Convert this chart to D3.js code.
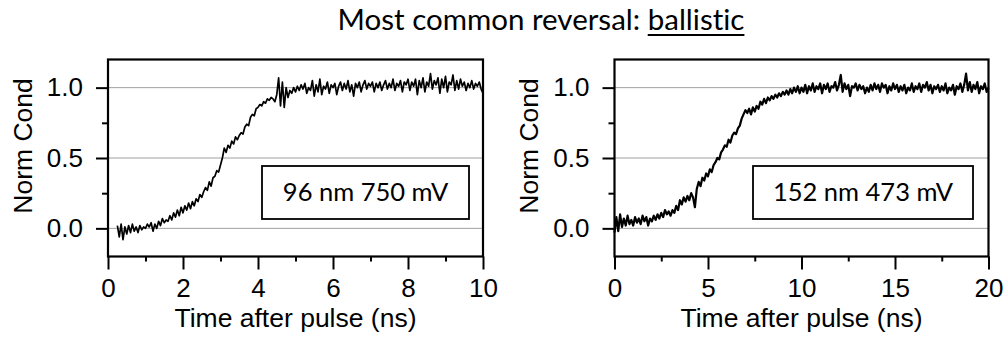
<!DOCTYPE html>
<html><head><meta charset="utf-8">
<script src="https://cdn.jsdelivr.net/npm/d3@7"></script>
<style>body{margin:0;background:#fff} svg{display:block} text{font-variant-ligatures:none;font-feature-settings:"liga" 0,"clig" 0}</style>
</head><body><svg id="c" width="1007" height="346"></svg>
<script>
// ---------------- data ----------------
const titleMain = "Most common reversal: ";
const titleEmph = "ballistic";
const yLabel = "Norm Cond";
const xLabel = "Time after pulse (ns)";
const leftInset = "96 nm 750 mV";
const rightInset = "152 nm 473 mV";

const yDomain = [-0.2, 1.2];
const yMajorTicks = [0, 0.5, 1.0];
const yMinorTicks = [0.25, 0.75];
const gridValues = [0, 0.5, 1.0];

const leftXDomain = [0, 10];
const leftXMajor = [0, 2, 4, 6, 8, 10];
const leftXMinor = [1, 3, 5, 7, 9];
const rightXDomain = [0, 20];
const rightXMajor = [0, 5, 10, 15, 20];
const rightXMinor = [2.5, 7.5, 12.5, 17.5];

const leftTime = [
0.25,0.3,0.35,0.4,0.45,0.5,0.55,0.6,0.65,0.7,0.75,0.8,0.85,0.9,0.95,
1,1.05,1.1,1.15,1.2,1.25,1.3,1.35,1.4,1.45,1.5,1.55,1.6,1.65,1.7,1.75,1.8,1.85,1.9,1.95,
2,2.05,2.1,2.15,2.2,2.25,2.3,2.35,2.4,2.45,2.5,2.55,2.6,2.65,2.7,2.75,2.8,2.85,2.9,2.95,
3,3.05,3.1,3.15,3.2,3.25,3.3,3.35,3.4,3.45,3.5,3.55,3.6,3.65,3.7,3.75,3.8,3.85,3.9,3.95,
4,4.05,4.1,4.15,4.2,4.25,4.3,4.35,4.4,4.45,4.5,4.55,4.6,4.65,4.7,4.75,4.8,4.85,4.9,4.95,
5,5.05,5.1,5.15,5.2,5.25,5.3,5.35,5.4,5.45,5.5,5.55,5.6,5.65,5.7,5.75,5.8,5.85,5.9,5.95,
6,6.05,6.1,6.15,6.2,6.25,6.3,6.35,6.4,6.45,6.5,6.55,6.6,6.65,6.7,6.75,6.8,6.85,6.9,6.95,
7,7.05,7.1,7.15,7.2,7.25,7.3,7.35,7.4,7.45,7.5,7.55,7.6,7.65,7.7,7.75,7.8,7.85,7.9,7.95,
8,8.05,8.1,8.15,8.2,8.25,8.3,8.35,8.4,8.45,8.5,8.55,8.6,8.65,8.7,8.75,8.8,8.85,8.9,8.95,
9,9.05,9.1,9.15,9.2,9.25,9.3,9.35,9.4,9.45,9.5,9.55,9.6,9.65,9.7,9.75,9.8,9.85,9.9,9.95,
10];
const leftCond = [
0.02,-0.06,0.03,-0.08,0.01,-0.04,0.02,-0.03,0.03,-0.02,0.01,-0.03,0.02,-0.01,0.01,
0.00,0.03,0.01,0.04,-0.02,0.03,0.00,0.05,0.02,0.07,0.04,0.06,0.05,0.09,0.06,0.11,0.08,0.13,0.09,0.15,
0.11,0.16,0.13,0.18,0.14,0.19,0.16,0.21,0.19,0.24,0.22,0.26,0.29,0.27,0.33,0.30,0.36,0.37,0.41,0.40,
0.45,0.50,0.57,0.54,0.59,0.57,0.62,0.60,0.65,0.63,0.66,0.68,0.67,0.72,0.74,0.73,0.79,0.81,0.80,0.85,
0.86,0.88,0.87,0.90,0.89,0.92,0.91,0.93,0.92,0.90,0.95,1.07,0.87,1.04,0.86,1.00,0.93,0.98,0.96,1.00,
0.97,1.01,0.98,1.02,0.99,1.03,0.96,1.00,0.98,1.05,0.94,1.02,0.97,1.06,0.95,1.01,0.99,1.04,0.96,1.02,
1.00,1.03,0.95,1.01,1.04,0.98,1.03,0.99,1.05,0.97,1.02,0.94,1.03,1.00,1.04,0.97,1.02,1.05,0.99,1.03,
1.01,1.04,0.97,1.03,1.00,1.04,0.98,1.02,1.05,0.99,1.03,1.00,1.06,0.98,1.03,1.01,1.05,0.97,1.04,1.02,
1.06,0.98,1.04,1.01,1.06,0.95,1.05,1.00,1.07,0.97,1.04,1.01,1.10,0.99,1.05,1.02,1.07,0.96,1.06,1.00,
1.08,0.97,1.04,1.02,1.09,0.98,1.05,0.99,1.06,1.01,1.04,0.98,1.03,1.00,1.05,0.99,1.03,1.01,1.04,0.99,
0.96];

const rightTime = [
0,0.1,0.2,0.3,0.4,0.5,0.6,0.7,0.8,0.9,
1,1.1,1.2,1.3,1.4,1.5,1.6,1.7,1.8,1.9,
2,2.1,2.2,2.3,2.4,2.5,2.6,2.7,2.8,2.9,
3,3.1,3.2,3.3,3.4,3.5,3.6,3.7,3.8,3.9,
4,4.1,4.2,4.3,4.4,4.5,4.6,4.7,4.8,4.9,
5,5.1,5.2,5.3,5.4,5.5,5.6,5.7,5.8,5.9,
6,6.1,6.2,6.3,6.4,6.5,6.6,6.7,6.8,6.9,
7,7.1,7.2,7.3,7.4,7.5,7.6,7.7,7.8,7.9,
8,8.1,8.2,8.3,8.4,8.5,8.6,8.7,8.8,8.9,
9,9.1,9.2,9.3,9.4,9.5,9.6,9.7,9.8,9.9,
10,10.1,10.2,10.3,10.4,10.5,10.6,10.7,10.8,10.9,
11,11.1,11.2,11.3,11.4,11.5,11.6,11.7,11.8,11.9,
12,12.1,12.2,12.3,12.4,12.5,12.6,12.7,12.8,12.9,
13,13.1,13.2,13.3,13.4,13.5,13.6,13.7,13.8,13.9,
14,14.1,14.2,14.3,14.4,14.5,14.6,14.7,14.8,14.9,
15,15.1,15.2,15.3,15.4,15.5,15.6,15.7,15.8,15.9,
16,16.1,16.2,16.3,16.4,16.5,16.6,16.7,16.8,16.9,
17,17.1,17.2,17.3,17.4,17.5,17.6,17.7,17.8,17.9,
18,18.1,18.2,18.3,18.4,18.5,18.6,18.7,18.8,18.9,
19,19.1,19.2,19.3,19.4,19.5,19.6,19.7,19.8,19.9,
20];
const rightCond = [
-0.03,0.08,-0.02,0.10,0.01,0.07,0.02,0.09,0.03,0.06,
0.02,0.08,0.04,0.07,0.03,0.09,0.05,0.08,0.02,0.07,
0.05,0.09,0.06,0.10,0.07,0.11,0.08,0.13,0.10,0.12,
0.09,0.13,0.11,0.16,0.13,0.20,0.17,0.22,0.19,0.23,
0.20,0.25,0.22,0.15,0.28,0.33,0.30,0.36,0.34,0.39,
0.37,0.42,0.40,0.45,0.47,0.50,0.49,0.54,0.56,0.59,
0.58,0.63,0.61,0.66,0.68,0.67,0.71,0.73,0.78,0.81,
0.84,0.82,0.85,0.81,0.86,0.83,0.87,0.85,0.90,0.88,
0.92,0.89,0.93,0.91,0.94,0.92,0.95,0.93,0.96,0.94,
0.97,0.95,0.98,0.95,0.99,0.96,1.00,0.97,1.01,0.96,
1.00,0.97,1.02,0.96,1.01,0.98,1.03,0.97,1.01,0.99,
1.03,0.96,1.02,0.99,1.03,0.97,1.01,1.00,1.04,0.98,
1.02,1.09,0.97,1.03,0.99,1.02,0.94,1.01,1.00,1.03,
0.98,1.02,0.99,1.01,0.96,1.00,0.97,1.02,0.98,1.03,
0.99,1.02,0.97,1.03,1.00,1.02,0.96,1.01,0.98,1.03,
0.99,1.02,0.97,1.01,0.98,1.02,0.96,1.00,0.98,1.03,
0.97,1.01,0.99,1.03,0.97,1.02,1.00,1.04,0.98,1.02,
0.96,1.01,0.99,1.02,0.97,1.01,0.98,1.03,0.96,1.00,
0.98,1.02,0.95,1.01,0.99,1.03,0.97,1.02,1.10,0.98,
1.04,0.97,1.02,0.99,1.04,0.96,1.01,0.99,1.03,0.97,
1.00];

// ---------------- drawing ----------------
const W = 1007, H = 346;
const AX_FONT = "'Liberation Sans', Arial, sans-serif";
const CAL_FONT = "Lato, 'Open Sans', sans-serif";
const svg = d3.select("#c");
svg.append("rect").attr("width", W).attr("height", H).attr("fill", "#fff");

function panel(cfg) {
  const { left, right, top, bottom, xDomain, xMajor, xMinor, time, cond, inset, box, yTitleX } = cfg;
  const x = d3.scaleLinear().domain(xDomain).range([left, right]);
  const y = d3.scaleLinear().domain(yDomain).range([bottom, top]);
  const g = svg.append("g");

  g.selectAll("line.grid").data(gridValues).join("line").attr("class", "grid")
    .attr("x1", left).attr("x2", right)
    .attr("y1", d => y(d)).attr("y2", d => y(d))
    .attr("stroke", "#a0a0a0").attr("stroke-width", 1);

  const line = d3.line().x((d, i) => x(time[i])).y(d => y(d));
  g.append("path").datum(cond).attr("d", line)
    .attr("fill", "none").attr("stroke", "#000").attr("stroke-width", cfg.lw)
    .attr("stroke-linejoin", "round");

  const styleAxis = sel => {
    sel.select(".domain").remove();
    sel.selectAll(".tick line").attr("stroke", "#000").attr("stroke-width", 2);
    sel.selectAll("text").attr("fill", "#000").attr("font-family", AX_FONT).attr("font-size", 26);
  };
  g.append("g").attr("transform", `translate(0,${bottom})`)
    .call(d3.axisBottom(x).tickValues(xMajor).tickSize(13).tickPadding(9).tickFormat(d3.format("d")))
    .call(styleAxis);
  g.append("g").attr("transform", `translate(0,${bottom})`)
    .call(d3.axisBottom(x).tickValues(xMinor).tickSize(5).tickFormat(""))
    .call(styleAxis);
  g.append("g").attr("transform", `translate(${left},0)`)
    .call(d3.axisLeft(y).tickValues(yMajorTicks).tickSize(12).tickPadding(13).tickFormat(d3.format(".1f")))
    .call(styleAxis);
  g.append("g").attr("transform", `translate(${left},0)`)
    .call(d3.axisLeft(y).tickValues(yMinorTicks).tickSize(6).tickFormat(""))
    .call(styleAxis);

  g.append("rect").attr("x", left).attr("y", top)
    .attr("width", right - left).attr("height", bottom - top)
    .attr("fill", "none").attr("stroke", "#000").attr("stroke-width", 2.2);

  // inset label box
  g.append("rect").attr("x", box[0]).attr("y", box[1]).attr("width", box[2]).attr("height", box[3])
    .attr("fill", "#fff").attr("stroke", "#000").attr("stroke-width", 1.8);
  g.append("text").attr("x", box[0] + box[2] / 2).attr("y", box[1] + 35)
    .attr("text-anchor", "middle").attr("font-family", CAL_FONT).attr("font-size", 25.5)
    .attr("fill", "#000").text(inset);

  g.append("text").attr("x", (left + right) / 2).attr("y", 327)
    .attr("text-anchor", "middle").attr("font-family", AX_FONT).attr("font-size", 26.5)
    .attr("fill", "#000").text(xLabel);
  g.append("text").attr("transform", `translate(${yTitleX},146) rotate(-90)`)
    .attr("text-anchor", "middle").attr("font-family", AX_FONT).attr("font-size", 26.5)
    .attr("fill", "#000").text(yLabel);
}

panel({ left: 108, right: 483, top: 59.5, bottom: 256.5, xDomain: leftXDomain, xMajor: leftXMajor, xMinor: leftXMinor,
  time: leftTime, cond: leftCond, inset: leftInset, box: [262, 166, 207, 53], yTitleX: 32, lw: 1.7 });
panel({ left: 614.5, right: 988.5, top: 59.5, bottom: 256.5, xDomain: rightXDomain, xMajor: rightXMajor, xMinor: rightXMinor,
  time: rightTime, cond: rightCond, inset: rightInset, box: [753, 166, 220, 53], yTitleX: 538, lw: 2.2 });

// title with underlined emphasis
const title = svg.append("text").attr("x", 541).attr("y", 29.5).attr("text-anchor", "middle")
  .attr("font-family", CAL_FONT).attr("font-size", 29.5).attr("fill", "#000");
title.append("tspan").text(titleMain);
const emph = title.append("tspan").text(titleEmph);
const en = emph.node();
const ex0 = en.getStartPositionOfChar(0).x;
const ex1 = en.getEndPositionOfChar(titleEmph.length - 1).x;
svg.append("line").attr("x1", ex0).attr("x2", ex1).attr("y1", 35).attr("y2", 35)
  .attr("stroke", "#000").attr("stroke-width", 2);
</script></body></html>
